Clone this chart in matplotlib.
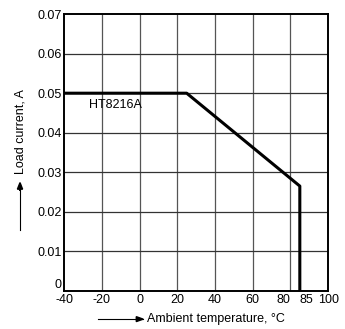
import matplotlib
matplotlib.use("Agg")
import matplotlib.pyplot as plt

plt.rcParams['font.family'] = ['Liberation Sans', 'DejaVu Sans']

# derating curve
temp = [-40, 25, 85, 85]
current = [0.05, 0.05, 0.0265, 0.0]

xticks = [-40, -20, 0, 20, 40, 60, 80, 85, 100]
xtick_labels = ['-40', '-20', '0', '20', '40', '60', '80', '85', '100']
xgrid = [-20, 0, 20, 40, 60, 80]
yticks = [0, 0.01, 0.02, 0.03, 0.04, 0.05, 0.06, 0.07]
ytick_labels = ['0', '0.01', '0.02', '0.03', '0.04', '0.05', '0.06', '0.07']

fig = plt.figure(figsize=(3.45, 3.29), dpi=100)
ax = fig.add_axes([0.186, 0.116, 0.765, 0.841])

for x in xgrid:
    ax.axvline(x, color='#555555', lw=0.9, zorder=1)
for y in yticks[1:-1]:
    ax.axhline(y, color='#333333', lw=0.9, zorder=1)

ax.plot(temp, current, color='black', lw=2.2, zorder=3)

ax.set_xlim(-40, 100)
ax.set_ylim(0, 0.07)
ax.set_xticks(xticks)
ax.set_xticklabels(xtick_labels)
ax.set_yticks(yticks)
ax.set_yticklabels(ytick_labels)
ax.tick_params(length=0, labelsize=9, pad=2)
for lab in ax.get_xticklabels():
    if lab.get_text() == '80':
        lab.set_horizontalalignment('right')
    if lab.get_text() == '85':
        lab.set_horizontalalignment('left')
ax.get_yticklabels()[0].set_verticalalignment('bottom')
for s in ax.spines.values():
    s.set_linewidth(1.4)

ax.text(-27, 0.047, 'HT8216A', fontsize=9, va='center', ha='left')

# axis labels with arrows
fig.text(0.425, 0.03, 'Ambient temperature, °C', fontsize=9, va='center', ha='left')
fig.add_artist(plt.Line2D([0.285, 0.415], [0.03, 0.03], color='black', lw=0.8))
fig.add_artist(matplotlib.patches.FancyArrow(0.395, 0.03, 0.02, 0, width=0.0, head_width=0.015,
                                             head_length=0.02, color='black', length_includes_head=True))
fig.text(0.058, 0.6, 'Load current, A', fontsize=9, va='center', ha='center', rotation=90)
fig.add_artist(plt.Line2D([0.058, 0.058], [0.3, 0.44], color='black', lw=0.8))
fig.add_artist(matplotlib.patches.FancyArrow(0.058, 0.42, 0, 0.025, width=0.0, head_width=0.015,
                                             head_length=0.02, color='black', length_includes_head=True))

fig.savefig('out.png', dpi=100)
